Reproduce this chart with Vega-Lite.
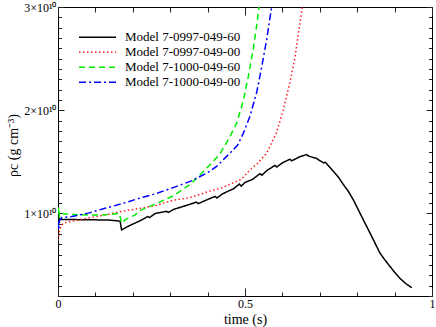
{
  "$schema": "https://vega.github.io/schema/vega-lite/v6.json",
  "width": 374,
  "height": 289,
  "autosize": {"type": "none"},
  "padding": {"left": 58, "top": 7, "right": 4, "bottom": 31},
  "background": "white",
  "config": {
    "view": {"stroke": "black", "strokeWidth": 1},
    "font": "Liberation Serif, Times New Roman, serif",
    "axis": {"grid": false, "domain": false, "tickColor": "#222", "labelColor": "black", "titleColor": "black", "labelFont": "Liberation Serif, Times New Roman, serif", "titleFont": "Liberation Serif, Times New Roman, serif", "titleFontWeight": "normal", "labelOverlap": false, "labelFlush": false},
    "legend": {"labelFont": "Liberation Serif, Times New Roman, serif"}
  },
  "data": {
    "values": [
      {"model": "Model 7-0997-049-60", "t": 0.0, "rho": 9.9e9},
      {"model": "Model 7-0997-049-60", "t": 0.002, "rho": 9.0e9},
      {"model": "Model 7-0997-049-60", "t": 0.004, "rho": 9.5e9},
      {"model": "Model 7-0997-049-60", "t": 0.01, "rho": 9.4e9},
      {"model": "Model 7-0997-049-60", "t": 0.05, "rho": 9.4e9},
      {"model": "Model 7-0997-049-60", "t": 0.1, "rho": 9.38e9},
      {"model": "Model 7-0997-049-60", "t": 0.14, "rho": 9.35e9},
      {"model": "Model 7-0997-049-60", "t": 0.166, "rho": 9.25e9},
      {"model": "Model 7-0997-049-60", "t": 0.17, "rho": 8.4e9},
      {"model": "Model 7-0997-049-60", "t": 0.19, "rho": 8.8e9},
      {"model": "Model 7-0997-049-60", "t": 0.22, "rho": 9.3e9},
      {"model": "Model 7-0997-049-60", "t": 0.24, "rho": 9.7e9},
      {"model": "Model 7-0997-049-60", "t": 0.245, "rho": 9.6e9},
      {"model": "Model 7-0997-049-60", "t": 0.26, "rho": 1.0e10},
      {"model": "Model 7-0997-049-60", "t": 0.29, "rho": 1.02e10},
      {"model": "Model 7-0997-049-60", "t": 0.295, "rho": 1.01e10},
      {"model": "Model 7-0997-049-60", "t": 0.31, "rho": 1.04e10},
      {"model": "Model 7-0997-049-60", "t": 0.35, "rho": 1.085e10},
      {"model": "Model 7-0997-049-60", "t": 0.37, "rho": 1.11e10},
      {"model": "Model 7-0997-049-60", "t": 0.375, "rho": 1.095e10},
      {"model": "Model 7-0997-049-60", "t": 0.40, "rho": 1.135e10},
      {"model": "Model 7-0997-049-60", "t": 0.42, "rho": 1.165e10},
      {"model": "Model 7-0997-049-60", "t": 0.425, "rho": 1.15e10},
      {"model": "Model 7-0997-049-60", "t": 0.44, "rho": 1.19e10},
      {"model": "Model 7-0997-049-60", "t": 0.47, "rho": 1.24e10},
      {"model": "Model 7-0997-049-60", "t": 0.485, "rho": 1.285e10},
      {"model": "Model 7-0997-049-60", "t": 0.49, "rho": 1.265e10},
      {"model": "Model 7-0997-049-60", "t": 0.50, "rho": 1.30e10},
      {"model": "Model 7-0997-049-60", "t": 0.52, "rho": 1.33e10},
      {"model": "Model 7-0997-049-60", "t": 0.54, "rho": 1.385e10},
      {"model": "Model 7-0997-049-60", "t": 0.545, "rho": 1.37e10},
      {"model": "Model 7-0997-049-60", "t": 0.56, "rho": 1.42e10},
      {"model": "Model 7-0997-049-60", "t": 0.58, "rho": 1.465e10},
      {"model": "Model 7-0997-049-60", "t": 0.585, "rho": 1.45e10},
      {"model": "Model 7-0997-049-60", "t": 0.60, "rho": 1.49e10},
      {"model": "Model 7-0997-049-60", "t": 0.62, "rho": 1.525e10},
      {"model": "Model 7-0997-049-60", "t": 0.625, "rho": 1.51e10},
      {"model": "Model 7-0997-049-60", "t": 0.647, "rho": 1.55e10},
      {"model": "Model 7-0997-049-60", "t": 0.665, "rho": 1.57e10},
      {"model": "Model 7-0997-049-60", "t": 0.67, "rho": 1.555e10},
      {"model": "Model 7-0997-049-60", "t": 0.69, "rho": 1.535e10},
      {"model": "Model 7-0997-049-60", "t": 0.71, "rho": 1.49e10},
      {"model": "Model 7-0997-049-60", "t": 0.715, "rho": 1.495e10},
      {"model": "Model 7-0997-049-60", "t": 0.736, "rho": 1.41e10},
      {"model": "Model 7-0997-049-60", "t": 0.75, "rho": 1.35e10},
      {"model": "Model 7-0997-049-60", "t": 0.763, "rho": 1.28e10},
      {"model": "Model 7-0997-049-60", "t": 0.777, "rho": 1.21e10},
      {"model": "Model 7-0997-049-60", "t": 0.79, "rho": 1.13e10},
      {"model": "Model 7-0997-049-60", "t": 0.803, "rho": 1.035e10},
      {"model": "Model 7-0997-049-60", "t": 0.816, "rho": 9.4e9},
      {"model": "Model 7-0997-049-60", "t": 0.828, "rho": 8.55e9},
      {"model": "Model 7-0997-049-60", "t": 0.839, "rho": 7.76e9},
      {"model": "Model 7-0997-049-60", "t": 0.85, "rho": 6.95e9},
      {"model": "Model 7-0997-049-60", "t": 0.861, "rho": 6.15e9},
      {"model": "Model 7-0997-049-60", "t": 0.875, "rho": 5.45e9},
      {"model": "Model 7-0997-049-60", "t": 0.888, "rho": 4.85e9},
      {"model": "Model 7-0997-049-60", "t": 0.9, "rho": 4.3e9},
      {"model": "Model 7-0997-049-60", "t": 0.914, "rho": 3.72e9},
      {"model": "Model 7-0997-049-60", "t": 0.93, "rho": 3.2e9},
      {"model": "Model 7-0997-049-60", "t": 0.946, "rho": 2.8e9},

      {"model": "Model 7-0997-049-00", "t": 0.0, "rho": 7.4e9},
      {"model": "Model 7-0997-049-00", "t": 0.005, "rho": 8.5e9},
      {"model": "Model 7-0997-049-00", "t": 0.014, "rho": 9.06e9},
      {"model": "Model 7-0997-049-00", "t": 0.03, "rho": 9.2e9},
      {"model": "Model 7-0997-049-00", "t": 0.08, "rho": 9.55e9},
      {"model": "Model 7-0997-049-00", "t": 0.126, "rho": 9.86e9},
      {"model": "Model 7-0997-049-00", "t": 0.17, "rho": 1.02e10},
      {"model": "Model 7-0997-049-00", "t": 0.22, "rho": 1.05e10},
      {"model": "Model 7-0997-049-00", "t": 0.26, "rho": 1.075e10},
      {"model": "Model 7-0997-049-00", "t": 0.31, "rho": 1.13e10},
      {"model": "Model 7-0997-049-00", "t": 0.35, "rho": 1.15e10},
      {"model": "Model 7-0997-049-00", "t": 0.40, "rho": 1.21e10},
      {"model": "Model 7-0997-049-00", "t": 0.44, "rho": 1.25e10},
      {"model": "Model 7-0997-049-00", "t": 0.47, "rho": 1.30e10},
      {"model": "Model 7-0997-049-00", "t": 0.49, "rho": 1.33e10},
      {"model": "Model 7-0997-049-00", "t": 0.513, "rho": 1.42e10},
      {"model": "Model 7-0997-049-00", "t": 0.535, "rho": 1.49e10},
      {"model": "Model 7-0997-049-00", "t": 0.558, "rho": 1.585e10},
      {"model": "Model 7-0997-049-00", "t": 0.584, "rho": 1.78e10},
      {"model": "Model 7-0997-049-00", "t": 0.602, "rho": 2.0e10},
      {"model": "Model 7-0997-049-00", "t": 0.62, "rho": 2.265e10},
      {"model": "Model 7-0997-049-00", "t": 0.634, "rho": 2.52e10},
      {"model": "Model 7-0997-049-00", "t": 0.643, "rho": 2.75e10},
      {"model": "Model 7-0997-049-00", "t": 0.654, "rho": 3.02e10},

      {"model": "Model 7-1000-049-60", "t": 0.0, "rho": 1.0e10},
      {"model": "Model 7-1000-049-60", "t": 0.002, "rho": 1.06e10},
      {"model": "Model 7-1000-049-60", "t": 0.004, "rho": 9.7e9},
      {"model": "Model 7-1000-049-60", "t": 0.008, "rho": 1.0e10},
      {"model": "Model 7-1000-049-60", "t": 0.03, "rho": 9.9e9},
      {"model": "Model 7-1000-049-60", "t": 0.08, "rho": 9.85e9},
      {"model": "Model 7-1000-049-60", "t": 0.126, "rho": 9.86e9},
      {"model": "Model 7-1000-049-60", "t": 0.164, "rho": 1.0e10},
      {"model": "Model 7-1000-049-60", "t": 0.17, "rho": 9.06e9},
      {"model": "Model 7-1000-049-60", "t": 0.18, "rho": 9.4e9},
      {"model": "Model 7-1000-049-60", "t": 0.206, "rho": 9.86e9},
      {"model": "Model 7-1000-049-60", "t": 0.22, "rho": 1.03e10},
      {"model": "Model 7-1000-049-60", "t": 0.26, "rho": 1.09e10},
      {"model": "Model 7-1000-049-60", "t": 0.308, "rho": 1.17e10},
      {"model": "Model 7-1000-049-60", "t": 0.353, "rho": 1.28e10},
      {"model": "Model 7-1000-049-60", "t": 0.38, "rho": 1.375e10},
      {"model": "Model 7-1000-049-60", "t": 0.406, "rho": 1.47e10},
      {"model": "Model 7-1000-049-60", "t": 0.433, "rho": 1.575e10},
      {"model": "Model 7-1000-049-60", "t": 0.46, "rho": 1.747e10},
      {"model": "Model 7-1000-049-60", "t": 0.478, "rho": 1.877e10},
      {"model": "Model 7-1000-049-60", "t": 0.496, "rho": 2.10e10},
      {"model": "Model 7-1000-049-60", "t": 0.509, "rho": 2.33e10},
      {"model": "Model 7-1000-049-60", "t": 0.522, "rho": 2.59e10},
      {"model": "Model 7-1000-049-60", "t": 0.531, "rho": 2.815e10},
      {"model": "Model 7-1000-049-60", "t": 0.538, "rho": 3.02e10},

      {"model": "Model 7-1000-049-00", "t": 0.0, "rho": 9.2e9},
      {"model": "Model 7-1000-049-00", "t": 0.002, "rho": 8.4e9},
      {"model": "Model 7-1000-049-00", "t": 0.004, "rho": 9.3e9},
      {"model": "Model 7-1000-049-00", "t": 0.01, "rho": 9.6e9},
      {"model": "Model 7-1000-049-00", "t": 0.037, "rho": 9.7e9},
      {"model": "Model 7-1000-049-00", "t": 0.081, "rho": 1.003e10},
      {"model": "Model 7-1000-049-00", "t": 0.126, "rho": 1.05e10},
      {"model": "Model 7-1000-049-00", "t": 0.17, "rho": 1.093e10},
      {"model": "Model 7-1000-049-00", "t": 0.22, "rho": 1.15e10},
      {"model": "Model 7-1000-049-00", "t": 0.26, "rho": 1.19e10},
      {"model": "Model 7-1000-049-00", "t": 0.308, "rho": 1.25e10},
      {"model": "Model 7-1000-049-00", "t": 0.353, "rho": 1.31e10},
      {"model": "Model 7-1000-049-00", "t": 0.398, "rho": 1.39e10},
      {"model": "Model 7-1000-049-00", "t": 0.424, "rho": 1.455e10},
      {"model": "Model 7-1000-049-00", "t": 0.46, "rho": 1.585e10},
      {"model": "Model 7-1000-049-00", "t": 0.48, "rho": 1.66e10},
      {"model": "Model 7-1000-049-00", "t": 0.496, "rho": 1.78e10},
      {"model": "Model 7-1000-049-00", "t": 0.513, "rho": 1.94e10},
      {"model": "Model 7-1000-049-00", "t": 0.531, "rho": 2.168e10},
      {"model": "Model 7-1000-049-00", "t": 0.545, "rho": 2.426e10},
      {"model": "Model 7-1000-049-00", "t": 0.558, "rho": 2.685e10},
      {"model": "Model 7-1000-049-00", "t": 0.572, "rho": 3.02e10}
    ]
  },
  "layer": [
    {
      "mark": {"type": "line", "clip": true, "strokeWidth": 1.5},
      "encoding": {
        "x": {
          "field": "t", "type": "quantitative",
          "scale": {"domain": [0, 1], "nice": false, "zero": false},
          "axis": {
            "orient": "bottom",
            "values": [0, 0.1, 0.2, 0.3, 0.4, 0.5, 0.6, 0.7, 0.8, 0.9, 1],
            "tickSize": {"condition": {"test": "abs(datum.value*2 - round(datum.value*2)) < 1e-9", "value": -8}, "value": -4},
            "labelExpr": "datum.value == 0 ? '0' : (datum.value == 0.5 ? '0.5' : (datum.value == 1 ? '1' : ''))",
            "labelFontSize": 12,
            "labelPadding": 10,
            "title": "time (s)",
            "titleFontSize": 14,
            "titleY": 16,
            "titleBaseline": "top"
          }
        },
        "y": {
          "field": "rho", "type": "quantitative",
          "scale": {"domain": [2000000000, 30000000000], "nice": false, "zero": false},
          "axis": {
            "orient": "left",
            "values": [2000000000, 3000000000, 4000000000, 5000000000, 6000000000, 7000000000, 8000000000, 9000000000, 10000000000, 11000000000, 12000000000, 13000000000, 14000000000, 15000000000, 16000000000, 17000000000, 18000000000, 19000000000, 20000000000, 21000000000, 22000000000, 23000000000, 24000000000, 25000000000, 26000000000, 27000000000, 28000000000, 29000000000, 30000000000],
            "tickSize": {"condition": {"test": "datum.value % 10000000000 == 0", "value": -6}, "value": -3.5},
            "labelExpr": "datum.value == 10000000000 ? '1×10¹⁰' : (datum.value == 20000000000 ? '2×10¹⁰' : (datum.value == 30000000000 ? '3×10¹⁰' : ''))",
            "labelFontSize": 12,
            "labelPadding": 8,
            "title": "ρc (g cm⁻³)",
            "titleFontSize": 14,
            "titleX": -38,
            "titleY": 138,
            "titleAngle": 270,
            "titleAlign": "center",
            "titleBaseline": "bottom"
          }
        },
        "color": {
          "field": "model", "type": "nominal",
          "scale": {
            "domain": ["Model 7-0997-049-60", "Model 7-0997-049-00", "Model 7-1000-049-60", "Model 7-1000-049-00"],
            "range": ["#000000", "#ff2020", "#00ee00", "#0000ff"]
          },
          "legend": {
            "orient": "none", "legendX": 20, "legendY": 23, "title": null, "padding": 0,
            "symbolType": "stroke", "symbolSize": 1369, "symbolStrokeWidth": 1.5,
            "labelFontSize": 13, "labelFont": "Liberation Serif, Times New Roman, serif", "labelColor": "black",
            "labelOffset": 8, "clipHeight": 14.5, "rowPadding": 0
          }
        },
        "strokeDash": {
          "field": "model", "type": "nominal",
          "scale": {
            "domain": ["Model 7-0997-049-60", "Model 7-0997-049-00", "Model 7-1000-049-60", "Model 7-1000-049-00"],
            "range": [[1, 0], [1.5, 2.5], [6, 4], [7, 3, 2, 3]]
          }
        }
      }
    },
    {
      "mark": {"type": "line", "opacity": 0},
      "encoding": {
        "x": {
          "field": "t", "type": "quantitative",
          "scale": {"domain": [0, 1], "nice": false, "zero": false},
          "axis": {
            "orient": "top",
            "values": [0, 0.1, 0.2, 0.3, 0.4, 0.5, 0.6, 0.7, 0.8, 0.9, 1],
            "tickSize": {"condition": {"test": "abs(datum.value*2 - round(datum.value*2)) < 1e-9", "value": -8}, "value": -5},
            "labels": false,
            "title": null
          }
        },
        "y": {
          "field": "rho", "type": "quantitative",
          "scale": {"domain": [2000000000, 30000000000], "nice": false, "zero": false},
          "axis": {
            "orient": "right",
            "values": [2000000000, 3000000000, 4000000000, 5000000000, 6000000000, 7000000000, 8000000000, 9000000000, 10000000000, 11000000000, 12000000000, 13000000000, 14000000000, 15000000000, 16000000000, 17000000000, 18000000000, 19000000000, 20000000000, 21000000000, 22000000000, 23000000000, 24000000000, 25000000000, 26000000000, 27000000000, 28000000000, 29000000000, 30000000000],
            "tickSize": {"condition": {"test": "datum.value % 10000000000 == 0", "value": -6}, "value": -3.5},
            "labels": false,
            "title": null
          }
        }
      }
    }
  ],
  "resolve": {"axis": {"x": "independent", "y": "independent"}}
}
